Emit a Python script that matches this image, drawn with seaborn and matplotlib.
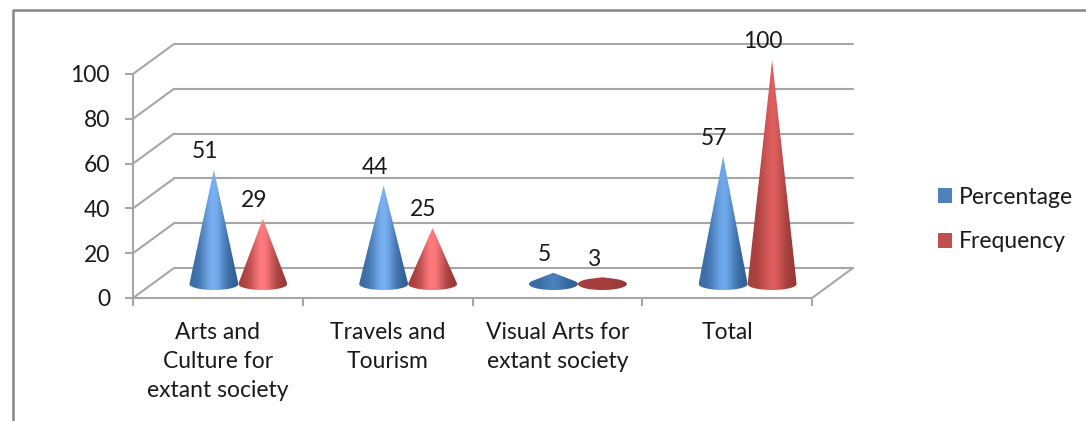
import numpy as np
import pandas as pd
import matplotlib
matplotlib.use("Agg")
import matplotlib.pyplot as plt
import seaborn as sns
from matplotlib.colors import to_rgb
from matplotlib.lines import Line2D
from matplotlib.patches import Patch, Polygon
from matplotlib.transforms import Affine2D

categories = ["Arts and\nCulture for\nextant society", "Travels and\nTourism",
              "Visual Arts for\nextant society", "Total"]
percentage = [51, 44, 5, 57]
frequency = [29, 25, 3, 100]
series_names = ["Percentage", "Frequency"]
legend_colors = ["#4f81bd", "#c0504d"]
edge_colors = {"Percentage": ("#3a6da6", "#2f5f95"), "Frequency": ("#a8403e", "#963836")}
centre_colors = {"Percentage": ["#79b0f2", "#79b0f2", "#4a80bd", "#6fa8ea"],
                 "Frequency": ["#ff7a7e", "#ff7a7e", "#a83f3d", "#dd5f5e"]}
yticks = [0, 20, 40, 60, 80, 100]

sns.set_theme(style="white")
plt.rcParams["font.family"] = ["Lato", "DejaVu Sans"]
GRAY = "#a6a6a6"
TXT = "#1a1a1a"
FS = 16.5

W, H = 1086, 421
fig = plt.figure(figsize=(W / 100, H / 100), dpi=100)
ax = fig.add_axes([133 / W, (H - 298) / H, 679 / W, 224 / H])

df = pd.DataFrame({
    "category": categories * 2,
    "series": [series_names[0]] * 4 + [series_names[1]] * 4,
    "value": percentage + frequency,
})
sns.barplot(data=df, x="category", y="value", hue="series", hue_order=series_names,
            palette=legend_colors, width=0.577, legend=False, ax=ax, zorder=3)
ax.set_xlim(-0.5, 3.5)
ax.set_ylim(0, 100)
ax.set_xlabel("")
ax.set_ylabel("")

# spines and ticks of the front plane
for side in ("top", "right"):
    ax.spines[side].set_visible(False)
for side in ("left", "bottom"):
    ax.spines[side].set_color(GRAY)
    ax.spines[side].set_linewidth(1.5)
ax.set_yticks(yticks)
ax.tick_params(axis="y", which="major", length=6, width=1.5, color=GRAY,
               labelsize=FS, labelcolor=TXT, pad=10.5, left=True)
ax.set_xticks(range(4))
ax.set_xticklabels(categories, fontsize=FS, color=TXT, linespacing=1.47)
ax.set_xticks(np.arange(-0.5, 3.6, 1), minor=True)
ax.tick_params(axis="x", which="major", length=0, pad=17.5, bottom=False)
ax.tick_params(axis="x", which="minor", length=6, width=1.5, color=GRAY, bottom=True)

# depth of the box: back wall, side lines and floor
wall = Affine2D().translate(41, 30)
for v in yticks:
    ax.add_line(Line2D([-0.5, 3.5], [v, v], transform=ax.transData + wall,
                       color=GRAY, lw=1.5, clip_on=False, zorder=1))
    x0, y0 = ax.transData.transform((-0.5, v))
    ax.add_line(Line2D([x0, x0 + 41], [y0, y0 + 30], transform=None,
                       color=GRAY, lw=1.5, clip_on=False, zorder=1))
x1, y1 = ax.transData.transform((3.5, 0))
ax.add_line(Line2D([x1, x1 + 41], [y1, y1 + 30], transform=None,
                   color=GRAY, lw=1.5, clip_on=False, zorder=1))

# cones take their place, width and height from the seaborn bars
mid = Affine2D().translate(20.5, 14)
to_disp = ax.transData + mid
b = 6 * 100 / 224
t = np.linspace(0, 1, 256)
for container, name in zip(ax.containers, series_names):
    e0, e1 = (np.array(to_rgb(c)) for c in edge_colors[name])
    for k, bar in enumerate(container):
        bar.set_visible(False)
        cx = bar.get_x() + bar.get_width() / 2
        a = bar.get_width() / 2
        h = bar.get_height()
        ang0 = np.arcsin(b / h)
        th = np.linspace(ang0, -(np.pi + ang0), 80)
        pts = np.vstack([[cx, h], np.column_stack([cx + a * np.cos(th), b * np.sin(th)])])
        c = np.array(to_rgb(centre_colors[name][k]))
        prof = np.exp(-((t - 0.5) / 0.24) ** 2)[:, None]
        base = e0[None, :] * (1 - t[:, None]) + e1[None, :] * t[:, None]
        img = (base * (1 - prof) + c[None, :] * prof)[None, :, :]
        im = ax.imshow(img, extent=(cx - a, cx + a, -b, h), aspect="auto",
                       interpolation="bilinear", zorder=3 + 0.1 * (name == "Frequency"))
        im.set_transform(to_disp)
        im.set_clip_box(fig.bbox)
        im.set_clip_path(Polygon(pts, closed=True, transform=to_disp))
        ax.annotate(f"{h:.0f}", xy=(cx, h), xycoords=to_disp, xytext=(-6.5, 13),
                    textcoords="offset points", ha="center", va="center",
                    fontsize=FS, color=TXT, zorder=6, annotation_clip=False)
ax.set_xlim(-0.5, 3.5)
ax.set_ylim(0, 100)

# outer chart frame
fig.add_artist(Line2D([13 / W, 13 / W, 1], [0, (H - 9.5) / H, (H - 9.5) / H],
                      transform=fig.transFigure, color="#868686", lw=1.8))

handles = [Patch(facecolor=c, edgecolor="none", label=n) for c, n in zip(legend_colors, series_names)]
fig.legend(handles=handles, loc="upper left", bbox_to_anchor=(931 / W, (H - 180) / H),
           frameon=False, fontsize=FS, handlelength=0.61, handleheight=0.61,
           handletextpad=0.3, labelspacing=1.03, labelcolor=TXT, borderpad=0.3, borderaxespad=0)

fig.savefig("out.png", dpi=100)
